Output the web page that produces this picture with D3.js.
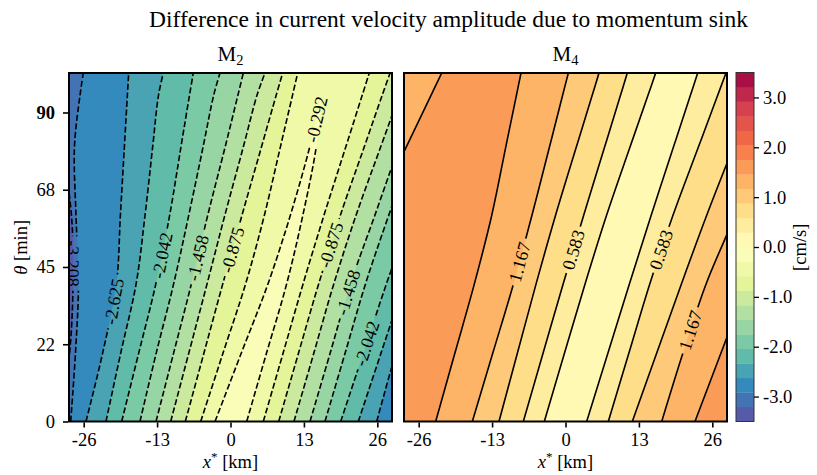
<!DOCTYPE html>
<html>
<head>
<meta charset="utf-8">
<script src="https://cdn.jsdelivr.net/npm/d3@7"></script>
<style>
  body { margin: 0; background: #fff; }
  svg { display: block; }
  text { font-family: "Liberation Serif", "DejaVu Serif", serif; fill: #000; }
</style>
</head>
<body>
<svg id="chart" width="817" height="475"></svg>
<script>
// θ rows (minutes) at which every contour line is sampled
const thetaRows = [0, 20, 40, 60, 80, 95, 101.5];

// filled-contour levels (cm/s) and the colour map they run through
const levelMin = -3.5, levelMax = 3.5, levelCount = 24;
const spectral = ["#9e0142", "#d53e4f", "#f46d43", "#fdae61", "#fee08b", "#ffffbf",
                  "#e6f598", "#abdda4", "#66c2a5", "#3288bd", "#5e4fa2"];

// M2: contour x* (km) on the west and east flank of the ridge, one value per θ row
const m2Levels = [-3.208, -2.917, -2.625, -2.333, -2.042, -1.750, -1.458, -1.167, -0.875, -0.583, -0.292];
const m2West = [
  [-30.19, -28.49, -27.89, -28.16, -29.84, -31.61, -32.32],
  [-28.30, -27.45, -26.92, -27.36, -27.63, -26.65, -26.07],
  [-25.59, -22.63, -20.21, -19.50, -18.79, -18.26, -18.03],
  [-22.05, -19.43, -16.72, -15.14, -13.78, -12.75, -11.90],
  [-19.27, -16.24, -13.23, -10.78,  -8.77,  -7.26,  -6.59],
  [-16.03, -13.14, -10.08,  -7.40,  -4.85,  -2.98,  -1.86],
  [-13.19, -10.06,  -6.94,  -4.04,  -0.94,   1.31,   2.27],
  [-10.59,  -7.37,  -4.16,  -1.01,   2.28,   4.69,   6.11],
  [ -8.00,  -4.69,  -1.38,   2.02,   5.49,   8.09,   9.24],
  [ -5.28,  -1.31,   2.66,   5.99,   8.84,  10.98,  11.90],
  [ -2.74,   1.93,   6.62,  10.59,  14.04,  16.20,  null]
];
const m2East = [
  [33.56, 37.10, 40.64, 45.07, 49.50, 53.20, 54.81],
  [30.01, 33.56, 37.10, 41.53, 45.95, 49.65, 51.27],
  [25.89, 29.29, 33.20, 37.45, 41.70, 44.91, 46.31],
  [22.63, 26.67, 30.72, 34.97, 39.22, 42.32, 43.65],
  [19.51, 23.55, 27.59, 31.89, 36.04, 39.14, 40.46],
  [16.73, 20.31, 23.89, 28.01, 32.39, 35.68, 37.10],
  [14.08, 17.66, 21.23, 25.55, 29.80, 32.97, 34.35],
  [11.24, 14.77, 18.28, 22.22, 26.60, 29.89, 31.31],
  [ 8.54, 12.06, 15.60, 19.44, 23.69, 26.86, 28.25],
  [ 5.81,  9.33, 12.84, 16.54, 20.42, 23.32, 24.58],
  [ 2.87,  6.39,  9.93, 12.80, 15.19, 16.20,  null]
];

// M4: contour x* (km) on the west and east side of the trough, one value per θ row
const m4Levels = [1.458, 1.167, 0.875, 0.583, 0.292];
const m4West = [
  [-22.99, -19.57, -16.15, -13.07, -10.57, -8.69, -7.88],
  [-16.50, -12.86,  -9.23,  -5.95,  -2.83, -0.51,  0.50],
  [-11.78,  -8.50,  -5.22,  -1.77,   1.93,  4.73,  5.93],
  [ -7.47,  -3.95,  -0.43,   3.21,   6.94,  9.74, 10.94],
  [ -3.75,  -0.16,   3.45,   7.26,  11.44, 14.61, 15.97]
];
const m4East = [
  [22.93, 27.55, 32.14, 36.75, 41.35, 44.93, 46.49],
  [17.04, 20.81, 24.88, 30.02, 34.80, 38.37, 39.93],
  [11.83, 16.17, 20.51, 24.99, 29.73, 33.27, 34.80],
  [ 7.58, 11.24, 14.91, 19.02, 23.55, 26.95, 28.42],
  [ 3.75,  7.53, 11.30, 15.16, 19.13, 22.12, 23.41]
];
// M4: the 1.458 contour cutting the north-west corner
const m4Corner = [-51.62, -45.78, -39.93, -34.09, -28.19, -23.82, -21.92];

// inline contour labels: level, flank (0 west, 1 east), θ position
const m2LabelSpots = [
  [-3.208, 0, 46], [-2.625, 0, 35], [-2.042, 0, 48.4], [-1.458, 0, 47.6],
  [-0.875, 0, 50], [-0.292, 0, 88], [-0.875, 1, 51.4], [-1.458, 1, 37.6], [-2.042, 1, 22.8]
];
const m4LabelSpots = [[1.167, 0, 46.4], [0.583, 0, 50], [0.583, 1, 50], [1.167, 1, 26.5]];

// axes
const xDomain = [-28.6, 28.6];
const thetaDomain = [0, 101.5];
const xTicks = [-26, -13, 0, 13, 26];
const thetaTicks = [0, 22.5, 45, 67.5, 90];
const thetaTickLabels = ["0", "22", "45", "68", "90"];
const cbTicks = [-3, -2, -1, 0, 1, 2, 3];

// ---------------------------------------------------------------------------
const svg = d3.select("#chart");
const defs = svg.append("defs");
const step = (levelMax - levelMin) / levelCount;
const cmap = d3.piecewise(d3.interpolateRgb, spectral.slice().reverse());
const bandColor = i => cmap((i + 0.5) / levelCount);
const bandIndex = v => Math.round((v - levelMin) / step);

const plotTop = 73, plotBottom = 421.5;
const y = d3.scaleLinear().domain(thetaDomain).range([plotBottom, plotTop]);
const curve = d3.curveCatmullRom.alpha(0.5);
const tickFont = 18.5, labelFont = 18;

function rows(a, b) {
  return thetaRows.map((t, i) => ({ t, a: a ? a[i] : undefined, b: b ? b[i] : undefined }));
}

function drawPanel(cfg) {
  const x = d3.scaleLinear().domain(xDomain).range([cfg.x0, cfg.x1]);
  const g = svg.append("g");
  const clipId = "clip-" + cfg.key, maskId = "mask-" + cfg.key;
  defs.append("clipPath").attr("id", clipId).append("rect")
    .attr("x", cfg.x0).attr("y", plotTop).attr("width", cfg.x1 - cfg.x0).attr("height", plotBottom - plotTop);
  const mask = defs.append("mask").attr("id", maskId).attr("maskUnits", "userSpaceOnUse")
    .attr("x", 0).attr("y", 0).attr("width", 817).attr("height", 475);
  mask.append("rect").attr("x", 0).attr("y", 0).attr("width", 817).attr("height", 475).attr("fill", "white");

  const fills = g.append("g").attr("clip-path", `url(#${clipId})`);
  const offLeft = cfg.x0 - 40;
  const area = d3.area().curve(curve)
    .defined(d => d.a !== null && d.b !== null)
    .y(d => y(d.t))
    .x0(d => d.a === undefined ? offLeft : x(d.a))
    .x1(d => x(d.b));

  // base band, then nested bands painted on top of it
  fills.append("rect").attr("x", cfg.x0).attr("y", plotTop)
    .attr("width", cfg.x1 - cfg.x0).attr("height", plotBottom - plotTop)
    .attr("fill", bandColor(cfg.baseBand));
  cfg.regions.forEach(r => {
    fills.append("path").attr("d", area(rows(r.a, r.b))).attr("fill", bandColor(r.band));
  });

  // contour lines
  const line = d3.line().curve(curve)
    .defined(d => d.v !== null)
    .x(d => x(d.v)).y(d => y(d.t));
  const lines = g.append("g").attr("clip-path", `url(#${clipId})`)
    .append("g").attr("mask", `url(#${maskId})`);
  const pathFor = {};
  cfg.lines.forEach(l => {
    const p = lines.append("path")
      .attr("d", line(thetaRows.map((t, i) => ({ t, v: l.values[i] }))))
      .attr("fill", "none").attr("stroke", "#000").attr("stroke-width", 1.6)
      .attr("stroke-dasharray", cfg.dashed ? "6,2.6" : null);
    pathFor[l.id] = p.node();
  });

  // inline labels, with the line cut away underneath
  const labels = g.append("g").attr("clip-path", `url(#${clipId})`);
  cfg.labels.forEach(([level, side, theta]) => {
    const node = pathFor[level.toFixed(3) + "_" + side];
    const ty = y(theta);
    const L = node.getTotalLength();
    let best = 0, bestD = Infinity;
    for (let i = 0; i <= 600; i++) {
      const l = L * i / 600;
      const d = Math.abs(node.getPointAtLength(l).y - ty);
      if (d < bestD) { bestD = d; best = l; }
    }
    const c = node.getPointAtLength(best);
    const a = node.getPointAtLength(Math.max(0, best - 5));
    const b = node.getPointAtLength(Math.min(L, best + 5));
    let ang = Math.atan2(b.y - a.y, b.x - a.x) * 180 / Math.PI;
    if (ang > 90) ang -= 180;
    if (ang <= -90) ang += 180;
    const tr = `translate(${c.x},${c.y}) rotate(${ang})`;
    const t = labels.append("text").attr("transform", tr)
      .attr("text-anchor", "middle").attr("dy", "0.35em")
      .attr("font-size", labelFont).text(level.toFixed(3));
    const w = t.node().getComputedTextLength();
    mask.append("rect").attr("transform", tr)
      .attr("x", -w / 2 - 4).attr("y", -labelFont * 0.45)
      .attr("width", w + 8).attr("height", labelFont * 0.9).attr("fill", "black");
  });

  // frame
  g.append("rect").attr("x", cfg.x0).attr("y", plotTop)
    .attr("width", cfg.x1 - cfg.x0).attr("height", plotBottom - plotTop)
    .attr("fill", "none").attr("stroke", "#000").attr("stroke-width", 2);

  // x axis
  const ax = g.append("g").attr("transform", `translate(0,${plotBottom + 1})`)
    .call(d3.axisBottom(x).tickValues(xTicks).tickFormat(d => String(d)).tickSize(5).tickPadding(5));
  ax.select(".domain").remove();
  ax.selectAll(".tick line").attr("stroke", "#000").attr("stroke-width", 1.6);
  ax.selectAll(".tick text").attr("font-size", tickFont).attr("font-family", null).attr("fill", "#000");

  const xl = g.append("text").attr("x", (cfg.x0 + cfg.x1) / 2).attr("y", 468)
    .attr("text-anchor", "middle").attr("font-size", tickFont);
  xl.append("tspan").attr("font-style", "italic").text("x");
  xl.append("tspan").attr("font-size", 13).attr("dy", -7).text("*");
  xl.append("tspan").attr("dy", 7).text(" [km]");

  // panel title
  const tt = g.append("text").attr("x", (cfg.x0 + cfg.x1) / 2).attr("y", 61)
    .attr("text-anchor", "middle").attr("font-size", 21);
  tt.append("tspan").text("M");
  tt.append("tspan").attr("font-size", 14.5).attr("dy", 4).text(cfg.sub);

  if (cfg.yAxis) {
    const ay = g.append("g").attr("transform", `translate(${cfg.x0 - 1},0)`)
      .call(d3.axisLeft(y).tickValues(thetaTicks).tickFormat((d, i) => thetaTickLabels[i]).tickSize(5).tickPadding(8));
    ay.select(".domain").remove();
    ay.selectAll(".tick line").attr("stroke", "#000").attr("stroke-width", 1.6);
    ay.selectAll(".tick text").attr("font-size", tickFont).attr("font-family", null).attr("fill", "#000")
      .attr("font-weight", d => d === 90 ? "bold" : null);
    const yl = g.append("text").attr("transform", `translate(27,${(plotTop + plotBottom) / 2}) rotate(-90)`)
      .attr("text-anchor", "middle").attr("font-size", tickFont);
    yl.append("tspan").attr("font-style", "italic").text("θ");
    yl.append("tspan").text(" [min]");
  }
}

// M2 panel: bands rise towards the ridge
drawPanel({
  key: "M2", sub: "2", x0: 69, x1: 392, dashed: true, yAxis: true,
  baseBand: bandIndex(m2Levels[0]) - 1,
  regions: m2Levels.map((lv, k) => ({ a: m2West[k], b: m2East[k], band: bandIndex(lv) })),
  lines: m2Levels.flatMap((lv, k) => [
    { id: lv.toFixed(3) + "_0", values: m2West[k] },
    { id: lv.toFixed(3) + "_1", values: m2East[k] }
  ]),
  labels: m2LabelSpots
});

// M4 panel: bands fall towards the trough, plus the north-west corner
drawPanel({
  key: "M4", sub: "4", x0: 404, x1: 727, dashed: false, yAxis: false,
  baseBand: bandIndex(m4Levels[0]),
  regions: [{ a: undefined, b: m4Corner, band: bandIndex(m4Levels[0]) - 1 }]
    .concat(m4Levels.map((lv, k) => ({ a: m4West[k], b: m4East[k], band: bandIndex(lv) - 1 }))),
  lines: [{ id: "corner", values: m4Corner }].concat(m4Levels.flatMap((lv, k) => [
    { id: lv.toFixed(3) + "_0", values: m4West[k] },
    { id: lv.toFixed(3) + "_1", values: m4East[k] }
  ])),
  labels: m4LabelSpots
});

// colour bar
const cbX = 736, cbW = 18;
const cb = d3.scaleLinear().domain([levelMin, levelMax]).range([plotBottom, plotTop - 0.5]);
const cbg = svg.append("g");
d3.range(levelCount).forEach(i => {
  const lo = levelMin + i * step, hi = lo + step;
  cbg.append("rect").attr("x", cbX).attr("y", cb(hi)).attr("width", cbW)
    .attr("height", cb(lo) - cb(hi) + 0.3).attr("fill", bandColor(i));
});
cbg.append("rect").attr("x", cbX).attr("y", cb(levelMax)).attr("width", cbW)
  .attr("height", cb(levelMin) - cb(levelMax)).attr("fill", "none").attr("stroke", "#333").attr("stroke-width", 1);
const cax = cbg.append("g").attr("transform", `translate(${cbX + cbW},0)`)
  .call(d3.axisRight(cb).tickValues(cbTicks).tickFormat(d => d.toFixed(1)).tickSize(5).tickPadding(4));
cax.select(".domain").remove();
cax.selectAll(".tick line").attr("stroke", "#000").attr("stroke-width", 1.3);
cax.selectAll(".tick text").attr("font-size", tickFont).attr("font-family", null).attr("fill", "#000");
svg.append("text").attr("transform", `translate(806,${(plotTop + plotBottom) / 2}) rotate(-90)`)
  .attr("text-anchor", "middle").attr("font-size", tickFont).text("[cm/s]");

// figure title, sized to span its line
const title = svg.append("text").attr("x", 448.5).attr("y", 27).attr("text-anchor", "middle")
  .attr("font-size", 20).text("Difference in current velocity amplitude due to momentum sink");
const tw = title.node().getComputedTextLength();
title.attr("font-size", 20 * 599 / tw);
</script>
</body>
</html>
